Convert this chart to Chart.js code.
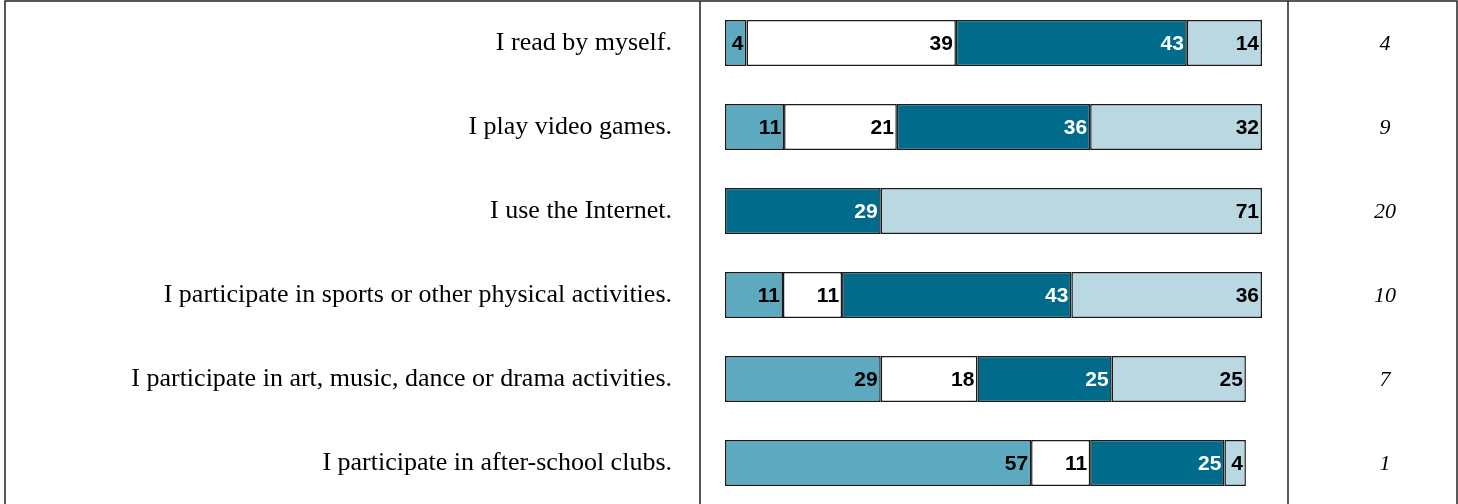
<!DOCTYPE html>
<html>
<head>
<meta charset="utf-8">
<script src="https://cdn.jsdelivr.net/npm/chart.js@4.4.1/dist/chart.umd.min.js"></script>
<style>
html,body{margin:0;padding:0;background:#fff;overflow:hidden;}
#wrap{position:relative;width:1458px;height:504px;overflow:hidden;}
canvas{display:block;}
</style>
</head>
<body>
<div id="wrap"><canvas id="c" width="1458" height="505"></canvas></div>
<script>
// ---- data ----
const categories = [
  "I read by myself.",
  "I play video games.",
  "I use the Internet.",
  "I participate in sports or other physical activities.",
  "I participate in art, music, dance or drama activities.",
  "I participate in after-school clubs."
];
const seriesA = [4, 11, 0, 10.8, 29, 57];
const seriesB = [39, 21, 0, 11, 18, 11];
const seriesC = [43, 36, 29, 42.7, 25, 25];
const seriesD = [14, 32, 71, 35.5, 25, 4];
const rightColumn = ["4", "9", "20", "10", "7", "1"];
const xMin = 0, xMax = 100;

// ---- styles / layout ----
const colors = ["#5da9c0", "#ffffff", "#006b8a", "#b9d8e2"];
const labelColors = ["#000000", "#000000", "#ffffff", "#000000"];
const frame = {left: 5, top: 1, sep1: 700, sep2: 1288, right: 1457};
const rightColCenter = 1385;

const tablePlugin = {
  id: 'tableFrame',
  beforeDraw(chart) {
    const ctx = chart.ctx;
    ctx.save();
    ctx.strokeStyle = '#222222';
    ctx.lineWidth = 1.5;
    ctx.beginPath();
    ctx.moveTo(frame.left, 600); ctx.lineTo(frame.left, frame.top); ctx.lineTo(frame.right, frame.top); ctx.lineTo(frame.right, 600);
    ctx.moveTo(frame.sep1, frame.top); ctx.lineTo(frame.sep1, 600);
    ctx.moveTo(frame.sep2, frame.top); ctx.lineTo(frame.sep2, 600);
    ctx.stroke();
    ctx.restore();
  },
  afterDatasetsDraw(chart) {
    const ctx = chart.ctx;
    ctx.save();
    // value labels
    ctx.font = 'bold 21px "Liberation Sans", Arial, sans-serif';
    ctx.textAlign = 'right';
    ctx.textBaseline = 'middle';
    chart.data.datasets.forEach((ds, di) => {
      const meta = chart.getDatasetMeta(di);
      meta.data.forEach((el, i) => {
        const v = ds.data[i];
        if (!v) return;
        ctx.fillStyle = labelColors[di];
        ctx.fillText(String(Math.round(v)), el.x - 3, el.y + 1);
      });
    });
    // right column
    const ys = chart.scales.y;
    ctx.font = 'italic 22px "Liberation Serif", "Times New Roman", serif';
    ctx.textAlign = 'center';
    ctx.fillStyle = '#000';
    rightColumn.forEach((t, i) => {
      ctx.fillText(t, rightColCenter, ys.getPixelForValue(i) + 1);
    });
    ctx.restore();
  }
};

const seriesList = [seriesA, seriesB, seriesC, seriesD];
new Chart(document.getElementById('c'), {
  type: 'bar',
  data: {
    labels: categories,
    datasets: seriesList.map((s, i) => ({
      label: 'S' + (i + 1),
      data: s,
      backgroundColor: colors[i],
      borderColor: '#1a1a1a',
      borderWidth: 1.5,
      borderSkipped: false,
      categoryPercentage: 1,
      barPercentage: 0.548
    }))
  },
  options: {
    indexAxis: 'y',
    responsive: false,
    animation: false,
    layout: {padding: {top: 1, right: 196, bottom: 0, left: 0}},
    plugins: {legend: {display: false}, tooltip: {enabled: false}},
    scales: {
      x: {stacked: true, display: false, min: xMin, max: xMax},
      y: {
        stacked: true,
        grid: {display: false, drawTicks: false},
        border: {display: false},
        ticks: {
          color: '#000',
          padding: 53,
          font: {family: '"Liberation Serif", "Times New Roman", serif', size: 26}
        },
        afterFit(scale) { scale.width = 725; scale.paddingTop = 0; scale.paddingBottom = 0; }
      }
    }
  },
  plugins: [tablePlugin]
});
</script>
</body>
</html>
